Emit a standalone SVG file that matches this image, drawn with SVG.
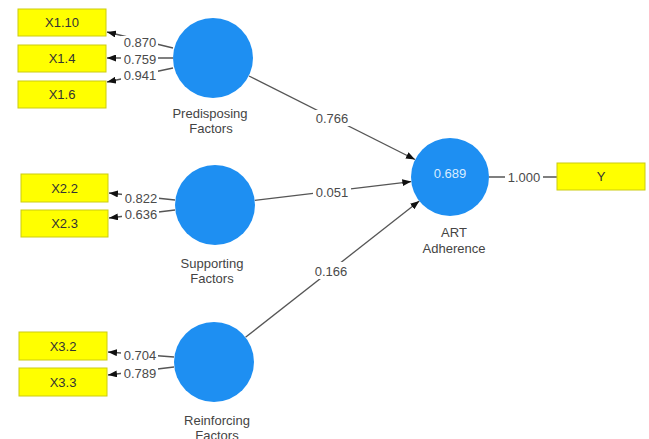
<svg xmlns="http://www.w3.org/2000/svg" width="649" height="439" viewBox="0 0 649 439">
<defs>
<marker id="ah" markerUnits="userSpaceOnUse" markerWidth="9" markerHeight="7" refX="9" refY="3.5" orient="auto">
<path d="M0,0 L9,3.5 L0,7 z" fill="#111"/>
</marker>
<style>
.box{fill:#ffff00;stroke:#cccc10;stroke-width:1}
.lv{fill:#1e8ff2}
.bt{font-family:"Liberation Sans",Arial,sans-serif;font-size:13px;fill:#333;text-anchor:middle}
.nl{font-family:"Liberation Sans",Arial,sans-serif;font-size:13px;fill:#444;text-anchor:middle}
.cl{stroke:#555;stroke-width:1.3;fill:none}
.ar{marker-end:url(#ah)}
.bg{fill:#fff}
.el{font-family:"Liberation Sans",Arial,sans-serif;font-size:13px;fill:#4a4a4a;text-anchor:middle}
.r2{font-family:"Liberation Sans",Arial,sans-serif;font-size:13px;fill:#d8ecff;text-anchor:middle}
</style>
</defs>
<rect width="649" height="439" fill="#fff"/>
<g id="connectors">
<line class="cl ar" x1="173" y1="48" x2="107" y2="32"/>
<line class="cl ar" x1="173" y1="58" x2="107" y2="58"/>
<line class="cl ar" x1="173" y1="68" x2="107" y2="82"/>
<line class="cl ar" x1="175" y1="200" x2="109" y2="193"/>
<line class="cl ar" x1="175" y1="210" x2="109" y2="218"/>
<line class="cl ar" x1="174" y1="357" x2="108" y2="352"/>
<line class="cl ar" x1="174" y1="367" x2="108" y2="375"/>
<line class="cl" x1="489" y1="177" x2="557" y2="177"/>
<line class="cl ar" x1="249" y1="76" x2="415" y2="159.5"/>
<line class="cl ar" x1="254.7" y1="200.3" x2="411.3" y2="181.6"/>
<line class="cl ar" x1="245.5" y1="337.3" x2="419.3" y2="201"/>
<rect class="bg" x="121" y="36" width="37" height="13"/>
<rect class="bg" x="121" y="53" width="37" height="12"/>
<rect class="bg" x="121" y="69" width="37" height="12"/>
<rect class="bg" x="122" y="192" width="37" height="12"/>
<rect class="bg" x="122" y="208" width="37" height="12"/>
<rect class="bg" x="121" y="349" width="37" height="12"/>
<rect class="bg" x="121" y="367" width="37" height="12"/>
<rect class="bg" x="505" y="170" width="38" height="14"/>
<rect class="bg" x="313" y="110" width="38" height="16"/>
<rect class="bg" x="313" y="185" width="38" height="14"/>
<rect class="bg" x="312" y="262" width="38" height="17"/>
<text class="el" x="140" y="46.5">0.870</text>
<text class="el" x="140" y="63.5">0.759</text>
<text class="el" x="140" y="79.5">0.941</text>
<text class="el" x="141" y="202.5">0.822</text>
<text class="el" x="141" y="218.5">0.636</text>
<text class="el" x="140" y="359.5">0.704</text>
<text class="el" x="140" y="377.5">0.789</text>
<text class="el" x="524" y="181.5">1.000</text>
<text class="el" x="332" y="122.5">0.766</text>
<text class="el" x="332" y="196.5">0.051</text>
<text class="el" x="331" y="275.5">0.166</text>
</g>
<g id="X1.10"><rect class="box" x="18" y="9" width="88" height="27"/><text class="bt" x="62" y="27">X1.10</text></g>
<g id="X1.4"><rect class="box" x="18" y="45" width="88" height="27"/><text class="bt" x="62" y="63">X1.4</text></g>
<g id="X1.6"><rect class="box" x="18" y="81" width="88" height="27"/><text class="bt" x="62" y="99">X1.6</text></g>
<g id="X2.2"><rect class="box" x="21" y="174" width="87" height="28"/><text class="bt" x="64.5" y="192.5">X2.2</text></g>
<g id="X2.3"><rect class="box" x="21" y="210" width="87" height="27"/><text class="bt" x="64.5" y="228">X2.3</text></g>
<g id="X3.2"><rect class="box" x="19" y="332" width="88" height="28"/><text class="bt" x="63" y="350.5">X3.2</text></g>
<g id="X3.3"><rect class="box" x="19" y="368" width="88" height="28"/><text class="bt" x="63" y="386.5">X3.3</text></g>
<g id="Y"><rect class="box" x="557" y="163" width="88" height="27"/><text class="bt" x="601" y="181">Y</text></g>
<g id="predisposing"><circle class="lv" cx="213" cy="58" r="40"/><text class="nl" x="210" y="117.5">Predisposing</text><text class="nl" x="211" y="132.5">Factors</text></g>
<g id="supporting"><circle class="lv" cx="215" cy="205" r="40"/><text class="nl" x="212" y="267.5">Supporting</text><text class="nl" x="212" y="282.5">Factors</text></g>
<g id="reinforcing"><circle class="lv" cx="214" cy="362" r="40"/><text class="nl" x="217" y="424.5">Reinforcing</text><text class="nl" x="217" y="440">Factors</text></g>
<g id="art"><circle class="lv" cx="450" cy="177" r="39"/><text class="r2" x="450" y="177.5">0.689</text><text class="nl" x="454" y="236.5">ART</text><text class="nl" x="454" y="252.5">Adherence</text></g>
</svg>
